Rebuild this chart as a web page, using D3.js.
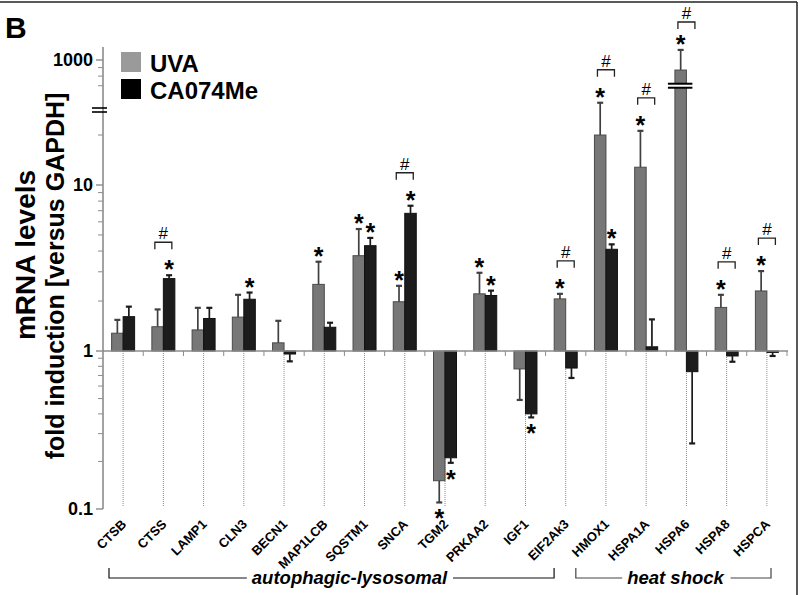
<!DOCTYPE html>
<html><head><meta charset="utf-8">
<script src="https://cdn.jsdelivr.net/npm/d3@7"></script>
<style>
body{margin:0;background:#fff}
svg{display:block}
text{font-family:"Liberation Sans",Arial,Helvetica,sans-serif}
</style>
</head><body>
<svg id="c" width="800" height="595"></svg>
<script>
// ---------- data ----------
const genes = ["CTSB","CTSS","LAMP1","CLN3","BECN1","MAP1LCB","SQSTM1","SNCA","TGM2","PRKAA2","IGF1","EIF2Ak3","HMOX1","HSPA1A","HSPA6","HSPA8","HSPCA"];
const uvaValues = [1.28, 1.40, 1.34, 1.60, 1.12, 2.52, 3.75, 1.98, 0.151, 2.21, 0.77, 2.06, 20.0, 12.8, 870, 1.83, 2.30];
const uvaErrEnd = [1.54, 1.78, 1.82, 2.18, 1.52, 3.45, 5.43, 2.47, 0.110, 2.96, 0.49, 2.21, 31.3, 21.2, 1150, 2.18, 3.03];
const caValues  = [1.61, 2.73, 1.57, 2.05, 0.957, 1.39, 4.31, 6.75, 0.211, 2.16, 0.40, 0.78, 4.10, 1.06, 0.74, 0.93, 0.98];
const caErrEnd  = [1.85, 2.86, 1.82, 2.25, 0.86, 1.48, 4.80, 7.50, 0.196, 2.31, 0.38, 0.675, 4.39, 1.55, 0.26, 0.855, 0.93];
const starUVA = [0,0,0,0,0,1,1,1,1,1,0,1,1,1,1,1,1];
const starCA  = [0,1,0,1,0,0,1,1,1,1,1,0,1,0,0,0,0];
const hashSig = [0,1,0,0,0,0,0,1,0,0,0,1,1,1,1,1,1];
const seriesNames = ["UVA","CA074Me"];
const majorTicks = [0.1, 1, 10, 1000];
const minorTicks = [0.2,0.3,0.4,0.5,0.6,0.7,0.8,0.9,2,3,4,5,6,7,8,9,20,700,800,900];
const groupNames = ["autophagic-lysosomal","heat shock"];
const groupFrom = ["CTSB","HMOX1"];
const groupTo = ["EIF2Ak3","HSPCA"];

// ---------- layout ----------
const svg = d3.select("#c");
const x = d3.scaleBand().domain(genes).range([103, 787]).padding(0);
const yLow = d3.scaleLog().domain([0.1, 1, 10]).range([509, 351, 185]);
const yUp = d3.scaleLog().domain([500, 1000]).range([110, 60]);
const BREAK = 500;
const y = v => v >= BREAK ? yUp(v) : yLow(v);
const base = yLow(1);
const BW = 11.5;
const cx = g => x(g) + x.bandwidth() / 2;
const GRAY = "#777777", GRAY_STROKE = "#4a4a4a", BLACK = "#1c1c1c";

// border
svg.append("line").attr("x1",0).attr("x2",797).attr("y1",2).attr("y2",2).attr("stroke","#222").attr("stroke-width",1.5);
svg.append("line").attr("x1",797).attr("x2",797).attr("y1",2).attr("y2",595).attr("stroke","#222").attr("stroke-width",1.5);

// panel letter
svg.append("text").attr("x",5).attr("y",38).attr("font-size",30).attr("font-weight","bold").text("B");

// dotted category lines below baseline
svg.append("g").selectAll("line").data(genes).join("line")
  .attr("x1",d=>cx(d)).attr("x2",d=>cx(d)).attr("y1",base).attr("y2",506)
  .attr("stroke","#8a8a8a").attr("stroke-width",1).attr("stroke-dasharray","1,1");

// bars
const data = genes.map((g,i)=>({g,i}));
function barY(v){ return v >= 1 ? y(v) : base; }
function barH(v){ return Math.abs(y(v) - base); }
svg.append("g").selectAll("rect").data(data).join("rect")
  .attr("x",d=>cx(d.g)-BW).attr("width",BW)
  .attr("y",d=>barY(uvaValues[d.i])).attr("height",d=>barH(uvaValues[d.i]))
  .attr("fill",GRAY).attr("stroke",GRAY_STROKE).attr("stroke-width",1);
svg.append("g").selectAll("rect").data(data).join("rect")
  .attr("x",d=>cx(d.g)).attr("width",BW)
  .attr("y",d=>barY(caValues[d.i])).attr("height",d=>barH(caValues[d.i]))
  .attr("fill",BLACK).attr("stroke","#111").attr("stroke-width",1);

// error bars
function errBars(vals, ends, off, color){
  const g = svg.append("g").attr("stroke",color).attr("stroke-width",1.7);
  data.forEach(d=>{
    const xc = cx(d.g) + off;
    const y0 = y(vals[d.i]), y1 = y(ends[d.i]);
    g.append("line").attr("x1",xc).attr("x2",xc).attr("y1",y0).attr("y2",y1);
    g.append("line").attr("x1",xc-3).attr("x2",xc+3).attr("y1",y1).attr("y2",y1).attr("stroke-width",2.2);
  });
}
errBars(uvaValues, uvaErrEnd, -BW/2, "#404040");
errBars(caValues, caErrEnd, BW/2, "#1a1a1a");

// break mark on tall bar
data.filter(d=>uvaValues[d.i] >= BREAK).forEach(d=>{
  const ym = yUp(700);
  const x0 = cx(d.g)-BW-7, x1 = cx(d.g)+6;
  svg.append("rect").attr("x",x0).attr("y",ym-2).attr("width",x1-x0).attr("height",4).attr("fill","#fff");
  [ym-2, ym+2].forEach(yy=>svg.append("line").attr("x1",x0).attr("x2",x1).attr("y1",yy).attr("y2",yy).attr("stroke","#000").attr("stroke-width",2));
});

// baseline (x axis) + boundary ticks
svg.append("line").attr("x1",103).attr("x2",788).attr("y1",base).attr("y2",base).attr("stroke","#8c8c8c").attr("stroke-width",1.6);
const bounds = genes.map(g=>x(g)).concat([x.range()[1]]);
svg.append("g").selectAll("line").data(bounds.slice(1)).join("line")
  .attr("x1",d=>d).attr("x2",d=>d).attr("y1",base).attr("y2",base+5)
  .attr("stroke","#8c8c8c").attr("stroke-width",1);

// y axis
svg.append("line").attr("x1",103).attr("x2",103).attr("y1",47).attr("y2",509).attr("stroke","#8c8c8c").attr("stroke-width",1.6);
minorTicks.forEach(v=>{
  svg.append("line").attr("x1",98).attr("x2",103).attr("y1",y(v)).attr("y2",y(v)).attr("stroke","#8c8c8c").attr("stroke-width",1);
});
const fmt = v => v < 1 ? String(v) : d3.format("d")(v);
majorTicks.forEach(v=>{
  svg.append("line").attr("x1",96).attr("x2",103).attr("y1",y(v)).attr("y2",y(v)).attr("stroke","#8c8c8c").attr("stroke-width",1.4);
  svg.append("text").attr("x",93).attr("y",y(v)).attr("dy","0.36em").attr("text-anchor","end")
    .attr("font-size",18).attr("font-weight","bold").text(fmt(v));
});
// axis break "="
const yb = yUp(BREAK);
[yb-2, yb+2].forEach(yy=>svg.append("line").attr("x1",92).attr("x2",107).attr("y1",yy).attr("y2",yy).attr("stroke","#000").attr("stroke-width",1.6));

// axis titles
svg.append("text").attr("transform","translate(35,255) rotate(-90)").attr("text-anchor","middle")
  .attr("font-size",28).attr("font-weight","bold").text("mRNA levels");
svg.append("text").attr("transform","translate(64,276) rotate(-90)").attr("text-anchor","middle")
  .attr("font-size",25).attr("font-weight","bold").text("fold induction [versus GAPDH]");

// x labels
svg.append("g").selectAll("text").data(genes).join("text")
  .attr("transform",d=>`translate(${cx(d)+4},525) rotate(-45)`)
  .attr("text-anchor","end").attr("font-size",13).attr("font-weight","bold").text(d=>d);

// stars
const starPos = [];
function stars(vals, ends, sig, off){
  data.forEach(d=>{
    if(!sig[d.i]) return;
    const v = vals[d.i], e = ends[d.i];
    const sy = v >= 1 ? y(e) - 11 : y(e) + 11;
    const sx = cx(d.g) + off;
    starPos.push({i:d.i, y:sy, up: v>=1});
    svg.append("text").attr("x",sx).attr("y",sy+14).attr("text-anchor","middle")
      .attr("font-size",25).attr("font-weight","bold").text("*");
  });
}
stars(uvaValues, uvaErrEnd, starUVA, -BW/2);
stars(caValues, caErrEnd, starCA, BW/2);

// hash brackets
data.forEach(d=>{
  if(!hashSig[d.i]) return;
  const ups = starPos.filter(s=>s.i===d.i && s.up).map(s=>s.y);
  const top = ups.length ? d3.min(ups) : Math.min(y(uvaErrEnd[d.i]), y(caErrEnd[d.i]));
  const by = Math.max(top - 22, 22), c = cx(d.g);
  svg.append("path").attr("d",`M${c-8.5},${by+7}V${by}H${c+8.5}V${by+7}`)
    .attr("fill","none").attr("stroke","#222").attr("stroke-width",1.3);
  svg.append("text").attr("x",c).attr("y",by-3).attr("text-anchor","middle")
    .attr("font-size",17).text("#");
});

// legend
const legColors = ["#9a9a9a","#000"];
seriesNames.forEach((s,k)=>{
  svg.append("rect").attr("x",121).attr("y",52+27*k).attr("width",20).attr("height",20).attr("fill",legColors[k]);
  svg.append("text").attr("x",150).attr("y",72+27*k).attr("font-size",24).attr("font-weight","bold").text(s);
});

// group brackets
const groupCenters = [349.5, 675.5];
const groupLeftOff = [6, -10];
const groupRightOff = [8.5, -16];
const groupColors = ["#111","#444"];
groupNames.forEach((name,k)=>{
  const xl = x(groupFrom[k]) + groupLeftOff[k];
  const xr = k===0 ? x(groupTo[k]) + groupRightOff[k] : x(groupTo[k]) + x.bandwidth() + groupRightOff[k];
  const t = svg.append("text").attr("x",groupCenters[k]).attr("y",584).attr("text-anchor","middle")
    .attr("font-size",18.5).attr("font-weight","bold").attr("font-style","italic").text(name);
  const bb = t.node().getBBox();
  const ly = 578;
  svg.append("path").attr("d",`M${xl},568V${ly}H${bb.x-5}`).attr("fill","none").attr("stroke",groupColors[k]).attr("stroke-width",1.2);
  svg.append("path").attr("d",`M${bb.x+bb.width+5},${ly}H${xr}V568`).attr("fill","none").attr("stroke",groupColors[k]).attr("stroke-width",1.2);
});
</script>
</body></html>
